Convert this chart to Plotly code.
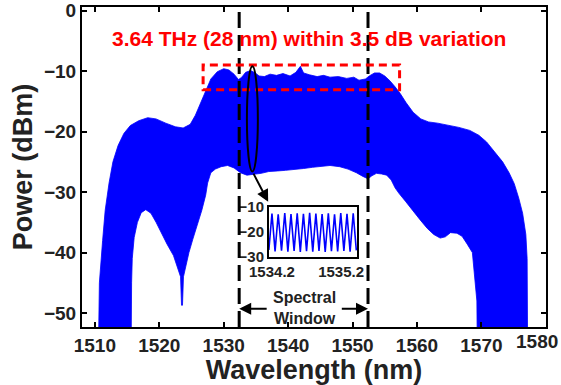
import plotly.graph_objects as go

# ---- data ----
upper_wl = [1510.5, 1510.7, 1511.2, 1511.6, 1512.2, 1512.8, 1513.6, 1514.5, 1515.5, 1516.8,
            1518.2, 1519.5, 1521.0, 1522.5, 1523.7, 1524.8, 1525.6, 1526.3, 1527.1, 1528.0,
            1529.0, 1530.0, 1530.8, 1531.6, 1532.3, 1532.8, 1533.4, 1534.2, 1534.9, 1535.5,
            1536.3, 1537.2, 1538.2, 1539.2, 1540.3, 1541.2, 1541.9, 1542.4, 1543.3, 1544.5,
            1545.5, 1546.5, 1547.8, 1549.1, 1550.2, 1551.0, 1552.0, 1552.6, 1553.4, 1554.2,
            1555.0, 1555.8, 1556.6, 1557.4, 1558.3, 1559.4, 1560.6, 1561.8, 1563.2, 1564.8,
            1566.5, 1568.2, 1569.6, 1570.8, 1572.0, 1573.3, 1574.3, 1575.1, 1575.8, 1576.4,
            1576.9, 1577.1, 1577.2]
upper_db = [-60, -45, -38, -33, -28.5, -25, -22.3, -20.3, -19, -18.2,
            -17.7, -17.9, -18.6, -19.2, -19.4, -18.8, -17.3, -15.5, -13.3, -11.3,
            -10.1, -9.6, -9.8, -10.5, -11.4, -11.0, -10.2, -9.9, -10.3, -10.8,
            -10.9, -10.5, -10.7, -10.4, -10.8, -10.2, -9.2, -10.3, -10.6, -10.9,
            -10.7, -11.0, -10.9, -11.2, -11.0, -11.5, -11.3, -10.8, -10.3, -10.3,
            -10.8, -11.6, -12.6, -13.7, -15.2, -16.8, -17.9, -18.4, -18.6, -18.9,
            -19.3, -19.8, -20.6, -21.7, -23.3, -25, -26.8, -28.6, -31, -33.5,
            -37, -41, -60]

lower_wl = [1569.4, 1569.3, 1568.9, 1568.6, 1567.8, 1567.0, 1566.2, 1565.2, 1564.4, 1563.6,
            1562.6, 1561.6, 1560.5, 1559.4, 1558.2, 1557.2, 1556.6, 1556.0, 1555.3, 1554.5,
            1553.7, 1553.0, 1552.4, 1551.6, 1550.6, 1549.3, 1548.0, 1546.5, 1545.0, 1543.8,
            1542.4, 1541.0, 1539.6, 1538.4, 1537.0, 1535.8, 1534.6, 1533.6, 1532.6, 1531.6,
            1530.6, 1529.6, 1528.7, 1528.0, 1527.5, 1527.2, 1526.6, 1525.9, 1525.2, 1524.6,
            1524.1, 1523.75, 1523.6, 1523.45, 1523.3, 1522.9, 1522.2, 1521.2, 1520.3, 1519.5,
            1518.7, 1517.9, 1517.2, 1516.6, 1516.1, 1515.8, 1515.7, 1515.6]
lower_db = [-60, -48, -44, -40, -38.6, -37.3, -36.8, -36.7, -37.4, -37.6,
            -37, -36, -34.6, -33.2, -31.5, -30.2, -29.3, -28.0, -27.2, -27.0,
            -26.9, -27.3, -27.8, -27.4, -26.8, -26.2, -25.8, -25.6, -25.7, -25.9,
            -26.1, -26.3, -26.4, -26.5, -26.6, -26.9, -27.1, -27.2, -26.8, -26.0,
            -25.6, -25.8, -26.2, -26.8, -28.5, -30.5, -33, -35.3, -37.8, -40,
            -42.3, -44, -48.7, -48.7, -44, -42.6, -40.5, -38.6, -36.6, -35,
            -33.5, -32.9, -33.4, -35, -37.5, -41, -45, -60]

inset_wl = [1534.155, 1534.200, 1534.245, 1534.290, 1534.338, 1534.385, 1534.430, 1534.475,
            1534.520, 1534.565, 1534.610, 1534.655, 1534.700, 1534.745, 1534.790, 1534.835,
            1534.880, 1534.925, 1534.970, 1535.015, 1535.060, 1535.105, 1535.150, 1535.195,
            1535.240, 1535.285, 1535.330, 1535.375, 1535.420]
inset_db = [-27.2, -12.6, -27.8, -12.9, -27.5, -12.4, -27.9, -12.8, -27.6, -12.5,
            -28.0, -12.7, -27.7, -12.3, -27.9, -12.6, -27.6, -12.8, -28.0, -12.5,
            -27.7, -12.9, -27.8, -12.4, -27.6, -12.7, -27.9, -12.5, -27.4]

x_ticks = [1510, 1520, 1530, 1540, 1550, 1560, 1570, 1580]
x_ticklabels = ["1510", "1520", "1530", "1540", "1550", "1560", "1570", ""]
last_x_label = "1580"
y_ticks = [0, -10, -20, -30, -40, -50]
inset_x_ticks = [1534.2, 1535.2]
inset_y_ticks = [-10, -20, -30]
window_edges = [1532.4, 1552.4]
headline = "3.64 THz (28 nm) within 3.5 dB variation"

FONT = "Liberation Sans, Arial, sans-serif"
BLUE = "rgb(0,0,255)"
TXT = "#222"
Y_LO, Y_HI = -52.3, 0.6

fig = go.Figure()
fig.add_trace(go.Scatter(
    x=upper_wl + lower_wl, y=upper_db + lower_db,
    mode="lines", fill="toself", fillcolor=BLUE,
    line=dict(color=BLUE, width=0.8), hoverinfo="skip", showlegend=False))

fig.add_trace(go.Scatter(
    x=inset_wl, y=inset_db, xaxis="x2", yaxis="y2",
    mode="lines", line=dict(color=BLUE, width=1.6), showlegend=False))

axis_common = dict(showline=True, linecolor="black", linewidth=2, mirror="allticks",
                   ticks="inside", ticklen=5, tickwidth=1.5, tickcolor="black",
                   showgrid=False, zeroline=False, automargin=False,
                   ticklabeloverflow="allow",
                   tickfont=dict(family=FONT, size=19, color=TXT, weight="bold"))

fig.update_layout(
    width=561, height=385,
    margin=dict(l=82, r=15, t=7, b=58),
    paper_bgcolor="white", plot_bgcolor="white",
    xaxis=dict(range=[1508, 1580.03], tickvals=x_ticks, ticktext=x_ticklabels, domain=[0, 1],
               title=dict(text="Wavelength (nm)", standoff=2,
                          font=dict(family=FONT, size=27, color=TXT, weight="bold")),
               **axis_common),
    yaxis=dict(range=[Y_LO, Y_HI], tickvals=y_ticks, domain=[0, 1],
               title=dict(text="Power (dBm)", standoff=4,
                          font=dict(family=FONT, size=27, color=TXT, weight="bold")),
               **axis_common),
    xaxis2=dict(domain=[0.403, 0.593], anchor="y2", range=[1534.157, 1535.432],
                tickvals=inset_x_ticks, ticktext=[str(v) for v in inset_x_ticks],
                showline=True, linecolor="black", linewidth=2, mirror=True,
                ticks="", showgrid=False, zeroline=False, automargin=False,
                tickfont=dict(family=FONT, size=15, color=TXT, weight="bold")),
    yaxis2=dict(domain=[0.219, 0.375], anchor="x2", range=[-30, -10],
                tickvals=inset_y_ticks,
                showline=True, linecolor="black", linewidth=2, mirror=True,
                ticks="", showgrid=False, zeroline=False, automargin=False,
                tickfont=dict(family=FONT, size=15, color=TXT, weight="bold")),
)

# last x tick label, pulled inside the page like the reference
fig.add_annotation(x=1.0, y=0, xref="paper", yref="paper", xanchor="right", yanchor="top",
                   xshift=14, yshift=-2, text=last_x_label, showarrow=False,
                   font=dict(family=FONT, size=19, color=TXT, weight="bold"))

# spectral window dashed lines
for xv in window_edges:
    fig.add_shape(type="line", x0=xv, x1=xv, y0=Y_LO, y1=Y_HI, xref="x", yref="y",
                  line=dict(color="black", width=3, dash="16px,7px"))

# red dashed box
fig.add_shape(type="rect", x0=1526.8, x1=1557.3, y0=-13.1, y1=-9.0, xref="x", yref="y",
              line=dict(color="red", width=3, dash="8px,5px"))

# ellipse around sample region
fig.add_shape(type="circle", x0=1533.6, x1=1535.3, y0=-26.6, y1=-9.2, xref="x", yref="y",
              line=dict(color="black", width=2))

# arrow from ellipse to inset
fig.add_annotation(x=1536.9, y=-31.6, ax=1534.5, ay=-26.7, xref="x", yref="y",
                   axref="x", ayref="y", text="", showarrow=True,
                   arrowhead=2, arrowsize=1.2, arrowwidth=2, arrowcolor="black")

# headline
fig.add_annotation(x=1543.3, y=-4.6, xref="x", yref="y", text=headline, showarrow=False,
                   font=dict(family=FONT, size=21, color="red", weight="bold"))

# spectral window labels and arrows
fig.add_annotation(x=1542.5, y=-49.1, xref="x", yref="y", text="Spectral<br>Window",
                   showarrow=False,
                   font=dict(family=FONT, size=16, color=TXT, weight="bold"))
fig.add_annotation(x=window_edges[0], y=-49.3, ax=1536.9, ay=-49.3, xref="x", yref="y",
                   axref="x", ayref="y", text="", showarrow=True,
                   arrowhead=2, arrowsize=1.2, arrowwidth=2, arrowcolor="black")
fig.add_annotation(x=window_edges[1], y=-49.3, ax=1548.1, ay=-49.3, xref="x", yref="y",
                   axref="x", ayref="y", text="", showarrow=True,
                   arrowhead=2, arrowsize=1.2, arrowwidth=2, arrowcolor="black")

fig.write_html("out.html")
